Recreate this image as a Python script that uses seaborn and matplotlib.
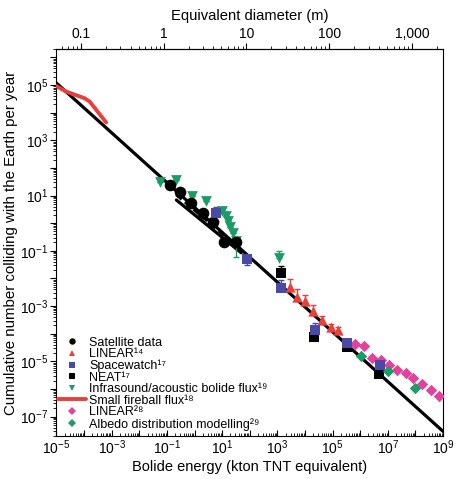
import numpy as np
import matplotlib
matplotlib.use('Agg')
import matplotlib.pyplot as plt
from matplotlib.lines import Line2D
from matplotlib.ticker import LogLocator, FuncFormatter, FixedLocator, NullFormatter
import seaborn as sns

# ── DATA ─────────────────────────────────────────────────────────────────────
# satellite data (black circles)
sat_E = [0.126, 0.29, 0.72, 2.0, 4.6, 11.5, 31]
sat_N = [24, 13.5, 5.4, 2.3, 1.1, 0.21, 0.21]

# LINEAR (ref 14), red triangles with upper error bars
lin14_E = [2800, 5000, 9800, 19500, 40700, 87000, 155000]
lin14_N = [4.9e-3, 2.1e-3, 1.55e-3, 6.6e-4, 3.2e-4, 1.74e-4, 1.38e-4]
lin14_hi = [9.5e-3, 4.2e-3, 2.5e-3, 1.1e-3, 4.5e-4, 2.2e-4, 1.7e-4]

# Spacewatch (blue squares)
sw_E = [6.2, 79, 1320, 22900, 347000, 5.2e6]
sw_N = [2.3, 0.049, 0.0047, 1.38e-4, 4.8e-5, 7.4e-6]
sw_lo = [1.15, 0.031, 0.0047, 1.38e-4, 4.8e-5, 7.4e-6]
sw_hi = [4.0, 0.049, 0.0089, 2.45e-4, 4.8e-5, 7.4e-6]

# NEAT (black squares)
neat_E = [1320, 20900, 347000, 5.0e6]
neat_N = [0.0162, 7.4e-5, 3.2e-5, 3.5e-6]
neat_hi = [0.028, 7.4e-5, 3.2e-5, 3.5e-6]

# infrasound / acoustic bolide flux (green down triangles)
inf_E = [0.054, 0.22, 0.79, 2.5, 9.5, 13.5, 15.8, 18.6, 24, 31, 1120]
inf_N = [32, 36, 9.5, 6.3, 2.75, 1.8, 1.2, 0.72, 0.45, 0.23, 0.055]
inf_lo = [32, 36, 9.5, 6.3, 2.75, 1.8, 1.2, 0.72, 0.45, 0.060, 0.055]
inf_hi = [32, 36, 9.5, 6.3, 2.75, 1.8, 1.2, 0.72, 0.45, 0.23, 0.102]

# small fireball flux (red line)
fb_E = [1.0e-5, 2.2e-5, 1.05e-4, 1.6e-4, 6.3e-4]
fb_N = [9.1e4, 5.8e4, 3.3e4, 2.5e4, 4.4e3]

# LINEAR (ref 28), pink diamonds
lin28_E = [6.5e5, 1.38e6, 2.7e6, 5.6e6, 1.1e7, 2.14e7, 4.4e7, 8.3e7, 1.74e8, 3.55e8, 7.2e8]
lin28_N = [4.1e-5, 3.5e-5, 1.3e-5, 1.12e-5, 7.1e-6, 4.9e-6, 3.7e-6, 2.45e-6, 1.5e-6, 9.3e-7, 5.6e-7]

# albedo distribution modelling (green diamonds)
alb_E = [1.07e6, 1.05e7, 1.0e8]
alb_N = [1.6e-5, 4.5e-6, 1.07e-6]

# power-law fit and band around the satellite data
fit_E = [1e-5, 1e9]
fit_N = [1.17e5, 2.95e-8]
band_E = [0.22, 49]
band_lo_N = [6.9, 0.085]
band_mid_N = [10.5, 0.11]

top_ticks = [0.1, 1, 10, 100, 1000]
top_labels = ['0.1', '1', '10', '100', '1,000']

legend_labels = ['Satellite data', 'LINEAR¹⁴', 'Spacewatch¹⁷', 'NEAT¹⁷',
                 'Infrasound/acoustic bolide flux¹⁹', 'Small fireball flux¹⁸',
                 'LINEAR²⁸', 'Albedo distribution modelling²⁹']

# ── STYLE ────────────────────────────────────────────────────────────────────
sns.set_theme(style='ticks', rc={
    'axes.edgecolor': 'black', 'text.color': 'black', 'axes.labelcolor': 'black',
    'xtick.color': 'black', 'ytick.color': 'black', 'axes.linewidth': 0.8,
})
plt.rcParams['font.family'] = ['Liberation Sans', 'DejaVu Sans']
plt.rcParams['mathtext.fontset'] = 'custom'
plt.rcParams['mathtext.rm'] = 'Liberation Sans'
plt.rcParams['mathtext.it'] = 'Liberation Sans:italic'
plt.rcParams['mathtext.bf'] = 'Liberation Sans:bold'

RED = '#e8403c'
BLUE = '#4a4aa6'
GREEN = '#1a9c68'
PINK = '#e2429c'

fig = plt.figure(figsize=(4.6, 4.79), dpi=100)
ax = fig.add_axes([0.1228, 0.0898, 0.8402, 0.8079])
ax.set_xscale('log')
ax.set_yscale('log')
ax.set_xlim(1e-5, 1e9)
ax.set_ylim(2e-8, 2e6)

# lines
sns.lineplot(x=fit_E, y=fit_N, color='black', lw=2.3, ax=ax, zorder=2)
sns.lineplot(x=band_E, y=band_lo_N, color='black', lw=2.3, ax=ax, zorder=2)
sns.lineplot(x=band_E, y=band_mid_N, color='black', lw=2.0, ls=(0, (2.5, 1.5)), ax=ax, zorder=2)
sns.lineplot(x=fb_E, y=fb_N, color=RED, lw=2.8, ax=ax, zorder=3)

# error bars
eb = dict(fmt='none', capsize=2.2, elinewidth=1.0, capthick=1.0, zorder=3)
ax.errorbar(inf_E, inf_N, yerr=[np.subtract(inf_N, inf_lo), np.subtract(inf_hi, inf_N)], ecolor=GREEN, **eb)
ax.errorbar(sw_E, sw_N, yerr=[np.subtract(sw_N, sw_lo), np.subtract(sw_hi, sw_N)], ecolor=BLUE, **eb)
ax.errorbar(neat_E, neat_N, yerr=[np.zeros(len(neat_N)), np.subtract(neat_hi, neat_N)], ecolor='black', **eb)
ax.errorbar(lin14_E, lin14_N, yerr=[np.multiply(lin14_N, 0.2), np.subtract(lin14_hi, lin14_N)], ecolor=RED, **eb)

# markers
sc = dict(ax=ax, linewidth=0, legend=False)
sns.scatterplot(x=inf_E, y=inf_N, marker='v', s=60, color=GREEN, zorder=4, **sc)
sns.scatterplot(x=sat_E, y=sat_N, marker='o', s=70, color='black', zorder=5, **sc)
sns.scatterplot(x=neat_E, y=neat_N, marker='s', s=42, color='black', zorder=5, **sc)
sns.scatterplot(x=sw_E, y=sw_N, marker='s', s=42, color=BLUE, zorder=6, **sc)
sns.scatterplot(x=lin14_E, y=lin14_N, marker='^', s=55, color=RED, zorder=5, **sc)
sns.scatterplot(x=lin28_E, y=lin28_N, marker='D', s=34, color=PINK, zorder=5, **sc)
sns.scatterplot(x=alb_E, y=alb_N, marker='D', s=34, color=GREEN, zorder=6, **sc)

# ── AXES ─────────────────────────────────────────────────────────────────────
def odd_decades(v, pos):
    e = int(round(np.log10(v)))
    return r'$\mathdefault{10^{%d}}$' % e if e % 2 else ''

for axis in (ax.xaxis, ax.yaxis):
    axis.set_major_locator(LogLocator(base=10, numticks=40))
    axis.set_minor_locator(LogLocator(base=10, subs=np.arange(2, 10), numticks=40))
    axis.set_major_formatter(FuncFormatter(odd_decades))
    axis.set_minor_formatter(NullFormatter())

ax.tick_params(which='major', length=4, width=0.8, labelsize=10, pad=2)
ax.tick_params(which='minor', length=2.5, width=0.6)
ax.tick_params(axis='x', which='both', direction='in')
ax.set_xlabel('Bolide energy (kton TNT equivalent)', fontsize=10.5, labelpad=2)
ax.set_ylabel('Cumulative number colliding with the Earth per year', fontsize=10.8, labelpad=1)

def e2d(E):
    E = np.clip(np.asarray(E, dtype=float), 1e-300, None)
    return 10 ** ((np.log10(E) + 1.12) / 3)

def d2e(D):
    D = np.clip(np.asarray(D, dtype=float), 1e-300, None)
    return 10 ** (3 * np.log10(D) - 1.12)

top = ax.secondary_xaxis('top', functions=(e2d, d2e))
top.xaxis.set_major_locator(FixedLocator(top_ticks))
top.set_xticklabels(top_labels)
top.xaxis.set_minor_locator(LogLocator(base=10, subs=np.arange(2, 10), numticks=40))
top.xaxis.set_minor_formatter(NullFormatter())
top.tick_params(which='major', length=4, width=0.8, labelsize=10, pad=2)
top.tick_params(which='minor', length=2.5, width=0.6)
top.set_xlabel('Equivalent diameter (m)', fontsize=10.6, labelpad=5)

# ── LEGEND ───────────────────────────────────────────────────────────────────
mk = dict(ls='none', markersize=4.6, markeredgewidth=0)
handles = [
    Line2D([], [], marker='o', color='black', **mk),
    Line2D([], [], marker='^', color=RED, **mk),
    Line2D([], [], marker='s', color=BLUE, **mk),
    Line2D([], [], marker='s', color='black', **mk),
    Line2D([], [], marker='v', color=GREEN, **mk),
    Line2D([], [], color=RED, lw=2.8),
    Line2D([], [], marker='D', color=PINK, markersize=4.0, ls='none', markeredgewidth=0),
    Line2D([], [], marker='D', color=GREEN, markersize=4.0, ls='none', markeredgewidth=0),
]
ax.legend(handles, legend_labels, loc='lower left', bbox_to_anchor=(0.004, 0.014),
          frameon=False, fontsize=9.0, handlelength=2.2, handletextpad=0.3,
          labelspacing=-0.04, borderpad=0, borderaxespad=0)

fig.savefig('out.png', dpi=100)
